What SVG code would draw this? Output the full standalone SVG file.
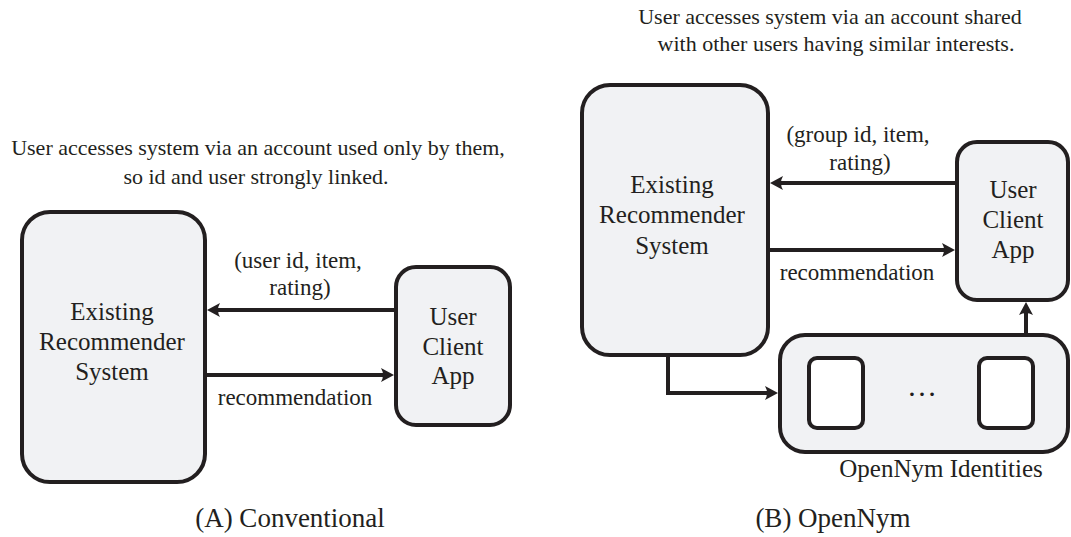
<svg xmlns="http://www.w3.org/2000/svg" width="1071" height="537" viewBox="0 0 1071 537">
<defs>
<style>
.box{fill:#f1f2f4;stroke:#231f20;stroke-width:4}
.inner{fill:#ffffff;stroke:#231f20;stroke-width:4}
.conn{fill:none;stroke:#231f20;stroke-width:4}
text{font-family:"Liberation Serif","Times New Roman",serif;fill:#231f20;text-anchor:middle}
.main{font-size:25px}
.lbl{font-size:23px}
.cap{font-size:22px}
.title{font-size:27px}
</style>
<marker id="ah" markerUnits="userSpaceOnUse" markerWidth="16" markerHeight="16" viewBox="0 -8 16 16" refX="8" refY="0" orient="auto">
<path d="M14,0 L1,-7 Q5,0 1,7 Z" fill="#231f20"/>
</marker>
</defs>
<rect width="1071" height="537" fill="#ffffff"/>

<text class="cap" x="258" y="155">User accesses system via an account used only by them,</text>
<text class="cap" x="256" y="184">so id and user strongly linked.</text>
<text class="cap" x="830" y="24">User accesses system via an account shared</text>
<text class="cap" x="836" y="51">with other users having similar interests.</text>

<g id="connectors">
<path class="conn" d="M396,310 H213" marker-end="url(#ah)"/>
<path class="conn" d="M205,375 H388" marker-end="url(#ah)"/>
<path class="conn" d="M957,183 H776" marker-end="url(#ah)"/>
<path class="conn" d="M768,250 H949" marker-end="url(#ah)"/>
<path class="conn" d="M1026,335 V308" marker-end="url(#ah)"/>
<path class="conn" d="M668,355 V393 H772" marker-end="url(#ah)"/>
<text class="lbl" x="298" y="268">(user id, item,</text>
<text class="lbl" x="300" y="295">rating)</text>
<text class="lbl" x="295" y="405">recommendation</text>
<text class="lbl" x="858" y="142">(group id, item,</text>
<text class="lbl" x="860" y="170">rating)</text>
<text class="lbl" x="857" y="280">recommendation</text>
</g>

<g id="a-recommender">
<rect class="box" x="22" y="212" width="183" height="270" rx="28"/>
<text class="main" x="112" y="320">Existing</text>
<text class="main" x="112" y="350">Recommender</text>
<text class="main" x="112" y="380">System</text>
</g>
<g id="a-client">
<rect class="box" x="396" y="267" width="114" height="158" rx="20"/>
<text class="main" x="453" y="325">User</text>
<text class="main" x="453" y="355">Client</text>
<text class="main" x="453" y="384">App</text>
</g>

<g id="b-recommender">
<rect class="box" x="582" y="85" width="186" height="270" rx="28"/>
<text class="main" x="672" y="193">Existing</text>
<text class="main" x="672" y="223">Recommender</text>
<text class="main" x="672" y="254">System</text>
</g>
<g id="b-client">
<rect class="box" x="957" y="142" width="111" height="158" rx="20"/>
<text class="main" x="1013" y="198">User</text>
<text class="main" x="1013" y="228">Client</text>
<text class="main" x="1013" y="258">App</text>
</g>
<g id="b-identities">
<rect class="box" x="780" y="335" width="288" height="117" rx="25"/>
<rect class="inner" x="809" y="358" width="54" height="70" rx="8"/>
<rect class="inner" x="979" y="358" width="54" height="70" rx="8"/>
<text class="main" x="922" y="396" style="font-size:30px">…</text>
<text class="main" x="941" y="477">OpenNym Identities</text>
</g>

<text class="title" x="290" y="527">(A) Conventional</text>
<text class="title" x="833" y="527">(B) OpenNym</text>
</svg>
